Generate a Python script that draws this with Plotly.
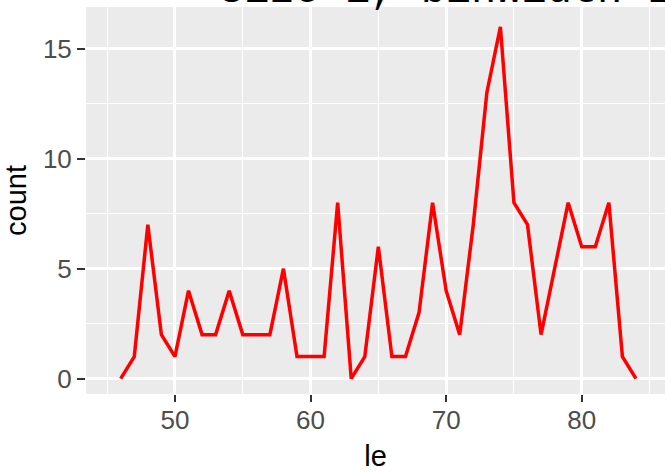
import plotly.graph_objects as go

le = list(range(46, 85))
count = [0, 1, 7, 2, 1, 4, 2, 2, 4, 2, 2, 2, 5, 1, 1, 1, 8, 0, 1, 6,
         1, 1, 3, 8, 4, 2, 7, 13, 16, 8, 7, 2, 5, 8, 6, 6, 8, 1, 0]
x_ticks = [50, 60, 70, 80]
y_ticks = [0, 5, 10, 15]
title_text = "size 1, binwidth 1"

fig = go.Figure()
fig.add_trace(go.Scatter(x=le, y=count, mode="lines",
                         line=dict(color="#FF0000", width=3.5),
                         showlegend=False, hoverinfo="x+y"))

W, H = 665, 472
L, R, T, B = 86, 0, 7, 78

fig.update_layout(
    width=W, height=H,
    margin=dict(l=L, r=R, t=T, b=B, pad=0),
    paper_bgcolor="white", plot_bgcolor="#EBEBEB",
    font=dict(family="Liberation Sans, Arial, sans-serif", color="#4D4D4D"),
    annotations=[dict(text=title_text, xref="paper", yref="paper",
                      x=(217 - L) / (W - L - R), y=0.975,
                      xanchor="left", yanchor="bottom", showarrow=False,
                      font=dict(family="Liberation Mono, Courier New, monospace",
                                size=42, color="black"))],
)
fig.update_xaxes(
    range=[43.44, 86.14], tickvals=x_ticks, ticktext=[str(v) for v in x_ticks],
    showgrid=True, gridcolor="white", gridwidth=2.5, zeroline=False,
    ticks="outside", ticklen=7, tickwidth=1.5, tickcolor="#333333",
    tickfont=dict(size=26, color="#4D4D4D"), ticklabelstandoff=-4,
    minor=dict(dtick=5, tick0=0, showgrid=True, gridcolor="white", gridwidth=1.3, ticks=""),
    showline=False, automargin=False,
    title=dict(text="le", font=dict(size=29, color="black"), standoff=20),
)
fig.update_yaxes(
    range=[-0.7, 16.9], tickvals=y_ticks, ticktext=[str(v) for v in y_ticks],
    showgrid=True, gridcolor="white", gridwidth=2.5, zeroline=False,
    ticks="outside", ticklen=8, tickwidth=1.5, tickcolor="#333333",
    tickfont=dict(size=26, color="#4D4D4D"), ticklabelstandoff=0,
    minor=dict(dtick=2.5, tick0=0, showgrid=True, gridcolor="white", gridwidth=1.3, ticks=""),
    showline=False, automargin=False,
    title=dict(text="count", font=dict(size=29, color="black"), standoff=11),
)

fig.write_html("out.html", config={"displayModeBar": False},
               post_script="document.body.style.margin='0';document.body.style.overflow='hidden';")
